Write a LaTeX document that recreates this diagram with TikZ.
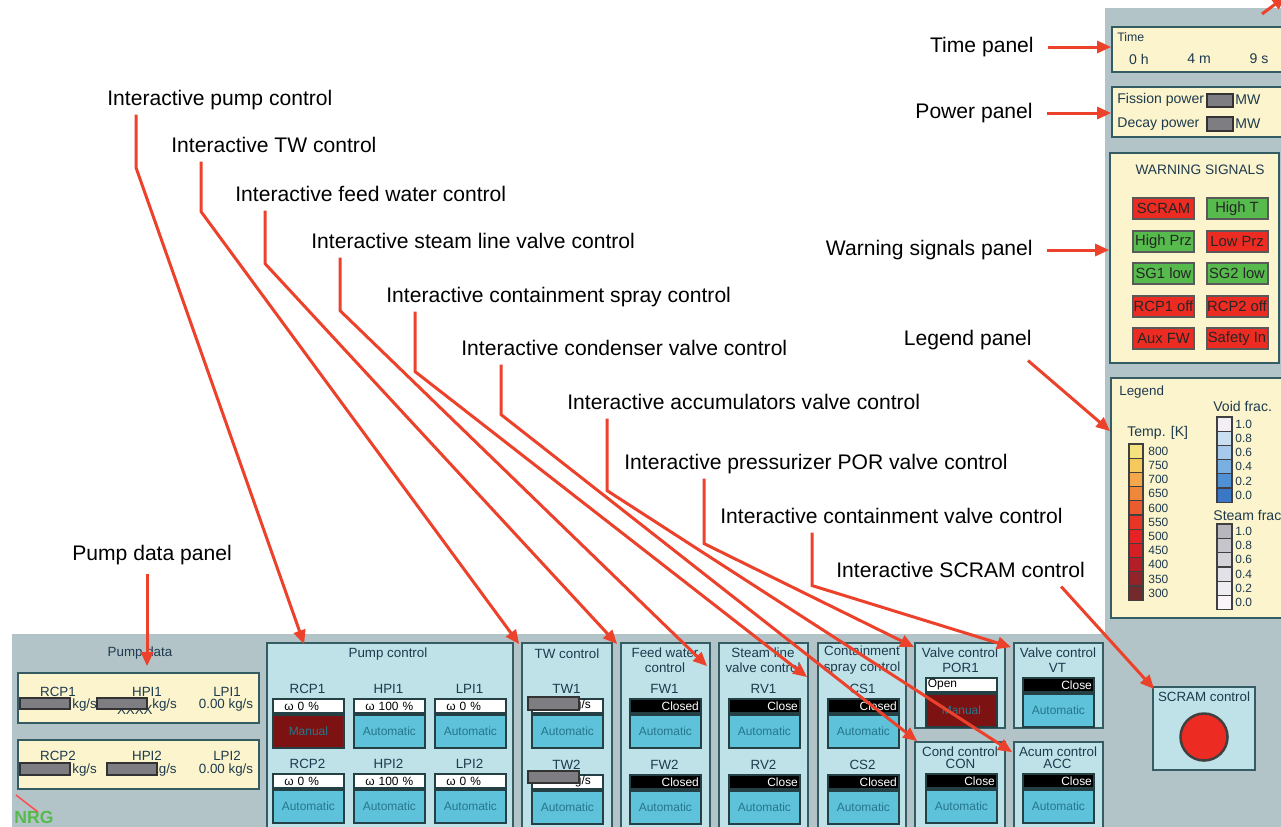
\documentclass[tikz,border=0pt]{standalone}
\usepackage{fontspec}
\setmainfont{Liberation Sans}
\usetikzlibrary{arrows.meta,positioning,calc,fit}

\definecolor{scrgrey}{RGB}{178,196,200}
\definecolor{pnlyellow}{RGB}{251,244,204}
\definecolor{pnlblue}{RGB}{190,226,232}
\definecolor{pnledge}{RGB}{52,92,98}
\definecolor{ctlcyan}{RGB}{94,194,218}
\definecolor{ctltext}{RGB}{38,118,140}
\definecolor{titletext}{RGB}{30,58,78}
\definecolor{mandark}{RGB}{124,18,18}
\definecolor{sigred}{RGB}{236,44,34}
\definecolor{siggreen}{RGB}{86,186,76}
\definecolor{callred}{RGB}{236,66,44}
\definecolor{maskgrey}{RGB}{126,126,130}
% legend scales
\definecolor{tk0}{HTML}{F5E27C}\definecolor{tk1}{HTML}{F6C95C}
\definecolor{tk2}{HTML}{F4A84A}\definecolor{tk3}{HTML}{EF873A}
\definecolor{tk4}{HTML}{EA5C2E}\definecolor{tk5}{HTML}{E83626}
\definecolor{tk6}{HTML}{E42424}\definecolor{tk7}{HTML}{D41F27}
\definecolor{tk8}{HTML}{B41F27}\definecolor{tk9}{HTML}{922429}
\definecolor{tk10}{HTML}{74292B}
\definecolor{vf0}{HTML}{F3EEF5}\definecolor{vf1}{HTML}{CADEF2}
\definecolor{vf2}{HTML}{A6C9EC}\definecolor{vf3}{HTML}{7AAFE1}
\definecolor{vf4}{HTML}{5090D4}\definecolor{vf5}{HTML}{3A78C6}
\definecolor{sf0}{HTML}{B6B6BC}\definecolor{sf1}{HTML}{C5C5CB}
\definecolor{sf2}{HTML}{D3D3D9}\definecolor{sf3}{HTML}{E1E1E7}
\definecolor{sf4}{HTML}{EDEDF2}\definecolor{sf5}{HTML}{F9F5F9}

\tikzset{
  callout/.style={font=\fontsize{12}{14}\selectfont, inner sep=0pt,
                  text height=9pt, text depth=2.6pt},
  flow/.style={draw=callred, line width=0.6mm,
               -{Triangle[length=2.8mm,width=2.4mm]}},
  pnl/.style={draw=pnledge, line width=0.35mm, inner sep=0pt},
  ypanel/.style={pnl, fill=pnlyellow},
  cpanel/.style={pnl, fill=pnlblue},
  ptitle/.style={font=\fontsize{7.6}{8.6}\selectfont, text=titletext,
                 inner sep=0pt, align=center},
  unitlbl/.style={ptitle},
  small/.style={font=\fontsize{7.6}{8.6}\selectfont, text=titletext, inner sep=0pt},
  legnum/.style={font=\fontsize{6.8}{7}\selectfont, text=titletext, inner sep=0pt, anchor=west},
  cell/.style={draw=black!75, line width=0.25mm},
  mask/.style={fill=maskgrey, draw=black!80, line width=0.3mm},
  ctltop/.style={anchor=north west, minimum height=2.8mm, text width=13.4mm,
                 inner xsep=0.4mm, inner ysep=0pt, draw=pnledge!70!black,
                 line width=0.35mm, font=\fontsize{6.8}{7}\selectfont},
  wtop/.style={ctltop, fill=white, align=left,
               execute at begin node={\hspace*{1.9mm}}},
  otop/.style={ctltop, fill=white, align=left},
  rtop/.style={ctltop, fill=white, align=right},
  btop/.style={ctltop, fill=black, text=white, align=right},
  ctlbody/.style={anchor=north west, minimum height=6.6mm, text width=13.4mm,
                  inner xsep=0.4mm, inner ysep=0pt, align=center,
                  draw=pnledge!70!black, line width=0.35mm,
                  font=\fontsize{6.8}{7}\selectfont, text=ctltext},
  autobody/.style={ctlbody, fill=ctlcyan},
  manbody/.style={ctlbody, fill=mandark},
  sigbtn/.style={draw=black!65, line width=0.4mm, minimum width=12.2mm,
                 minimum height=4.2mm, inner sep=0pt, text=black!85,
                 font=\fontsize{8.4}{9}\selectfont},
}

% one control unit: name, top-left corner, label, top style, top text, body style, body text
\newcommand{\ctlunit}[7]{%
  \node[unitlbl] (#1l) at ($(#2)+(35.5,-9)$) {#3};
  \node[#4] (#1t) at (#2) {#5};
  \node[#6] (#1b) at (#1t.south west) {#7};}

\begin{document}
\begin{tikzpicture}[x=0.2mm, y=-0.2mm]
  \clip (0,0) rectangle (1281,826);
  \fill[white] (0,0) rectangle (1281,826);
  % screen background
  \fill[scrgrey] (1105,8) rectangle (1290,830);
  \fill[scrgrey] (12,634) rectangle (1290,830);

  % right column panels
  \node[ypanel, fit={(1112,27) (1290,72)}] (timep) {};
  \node[small, anchor=west, font=\fontsize{7}{8}\selectfont] (timet) at (1117,37) {Time};
  \node[small, font=\fontsize{8}{9}\selectfont] (timeh) at (1139,59) {0 h};
  \node[small, font=\fontsize{8}{9}\selectfont] (timem) at (1199,59) {4 m};
  \node[small, font=\fontsize{8}{9}\selectfont] (times) at (1259,59) {9 s};

  \node[ypanel, fit={(1112,87) (1290,137)}] (powerp) {};
  \node[small, anchor=west, font=\fontsize{8}{9}\selectfont] (fisst) at (1117,100) {Fission power};
  \draw[mask] (1207,94) rectangle (1233,107);
  \node[small, anchor=west, font=\fontsize{8}{9}\selectfont] (fissu) at (1235,100) {MW};
  \node[small, anchor=west, font=\fontsize{8}{9}\selectfont] (dect) at (1117,124) {Decay power};
  \draw[mask] (1207,117) rectangle (1233,131);
  \node[small, anchor=west, font=\fontsize{8}{9}\selectfont] (decu) at (1235,124) {MW};

  \node[ypanel, fit={(1110,153) (1279,363)}] (warnp) {};
  \node[ptitle, font=\fontsize{7.8}{9}\selectfont] (warnt) at (1200,170) {WARNING SIGNALS};
  \foreach \nm/\txt/\col/\cx/\cy in {
      sScram/SCRAM/sigred/1163.5/208.5, sHighT/High T/siggreen/1237/208.5,
      sHighP/High Prz/siggreen/1163.5/241.5, sLowP/Low Prz/sigred/1237/241.5,
      sSGa/SG1 low/siggreen/1163.5/273.5, sSGb/SG2 low/siggreen/1237/273.5,
      sRCPa/RCP1 off/sigred/1163.5/306.5, sRCPb/RCP2 off/sigred/1237/306.5,
      sAux/Aux FW/sigred/1163.5/338.5, sSafe/Safety In/sigred/1237/338.5}
    \node[sigbtn, fill=\col] (\nm) at (\cx,\cy) {\txt};

  \node[ypanel, fit={(1111,378) (1290,618)}] (legendp) {};
  \node[small, anchor=west] (legt) at (1119,392) {Legend};
  \node[small, anchor=west, font=\fontsize{8}{9}\selectfont] (tempt) at (1127,433) {Temp. [K]};
  \node[small, anchor=west, font=\fontsize{8}{9}\selectfont] (voidt) at (1213,406) {Void frac.};
  \node[small, anchor=west, font=\fontsize{8}{9}\selectfont] (steamt) at (1213,515) {Steam frac};
  \foreach \v [count=\i from 0] in {800,750,...,300} {
    \draw[cell, fill=tk\i] (1129,{444+14.2*\i}) rectangle ++(14,14.2);
    \node[legnum] (tv\i) at (1148,{451.1+14.2*\i}) {\v};
  }
  \foreach \v [count=\i from 0] in {1.0,0.8,0.6,0.4,0.2,0.0} {
    \draw[cell, fill=vf\i] (1217,{417+14.2*\i}) rectangle ++(15,14.2);
    \node[legnum] (vv\i) at (1235,{424.1+14.2*\i}) {\v};
    \draw[cell, fill=sf\i] (1217,{524+14.3*\i}) rectangle ++(15,14.3);
    \node[legnum] (sv\i) at (1235,{531.2+14.3*\i}) {\v};
  }

  % pump data
  \node[ptitle] (pdt) at (140,653) {Pump data};
  \node[ypanel, fit={(18,673) (259,723)}] (pd1) {};
  \node[small] (pd1a) at (58,692) {RCP1};
  \node[small] (pd1b) at (147,692) {HPI1};
  \node[small] (pd1c) at (227,692) {LPI1};
  \node[small, anchor=west] (pd1av) at (72,705) {kg/s};
  \node[small, anchor=east] (pd1bx) at (153,710) {XXXX};
  \node[small, anchor=west] (pd1bv) at (152,705) {kg/s};
  \node[small] (pd1cv) at (226,705) {0.00 kg/s};
  \draw[mask] (20,698) rectangle (70,709);
  \draw[mask] (97,698) rectangle (147,709);
  \node[ypanel, fit={(18,740) (259,789)}] (pd2) {};
  \node[small] (pd2a) at (58,756) {RCP2};
  \node[small] (pd2b) at (147,756) {HPI2};
  \node[small] (pd2c) at (227,756) {LPI2};
  \node[small, anchor=west] (pd2av) at (72,770) {kg/s};
  \node[small, anchor=east] (pd2bv) at (177,770) {kg/s};
  \node[small] (pd2cv) at (226,770) {0.00 kg/s};
  \draw[mask] (20,763) rectangle (70,775);
  \draw[mask] (107,763) rectangle (157,775);
  \node[font=\fontsize{10}{10}\selectfont\bfseries, text=siggreen, inner sep=0pt]
    (nrg) at (34,817) {NRG};
  \draw[red!70, line width=0.3mm] (16,795) -- (38,812);

  % control panels
  \node[cpanel, fit={(267,643) (513,830)}] (pumpctl) {};
  \node[ptitle] (pumpt) at (388,654) {Pump control};
  \ctlunit{rcpa}{272,698}{RCP1}{wtop}{ω 0 \%}{manbody}{Manual}
  \ctlunit{hpia}{353,698}{HPI1}{wtop}{ω 100 \%}{autobody}{Automatic}
  \ctlunit{lpia}{434,698}{LPI1}{wtop}{ω 0 \%}{autobody}{Automatic}
  \ctlunit{rcpb}{272,773}{RCP2}{wtop}{ω 0 \%}{autobody}{Automatic}
  \ctlunit{hpib}{353,773}{HPI2}{wtop}{ω 100 \%}{autobody}{Automatic}
  \ctlunit{lpib}{434,773}{LPI2}{wtop}{ω 0 \%}{autobody}{Automatic}

  \node[cpanel, fit={(522,643) (612,830)}] (twctl) {};
  \node[ptitle] (twt) at (567,654) {TW control};
  \ctlunit{twa}{531,698}{TW1}{rtop}{kg/s\kern2mm}{autobody}{Automatic}
  \ctlunit{twb}{531,774}{TW2}{rtop}{kg/s\kern2mm}{autobody}{Automatic}
  \draw[mask] (528,697) rectangle (579,710);
  \draw[mask] (528,771) rectangle (579,783);

  \node[cpanel, fit={(621,643) (710,830)}] (fwctl) {};
  \node[ptitle] (fwt) at (665,660) {Feed water\\control};
  \ctlunit{fwa}{629,698}{FW1}{btop}{Closed}{autobody}{Automatic}
  \ctlunit{fwb}{629,774}{FW2}{btop}{Closed}{autobody}{Automatic}

  \node[cpanel, fit={(719,643) (808,830)}] (rvctl) {};
  \node[ptitle] (rvt) at (763,660) {Steam line\\valve control};
  \ctlunit{rva}{728,698}{RV1}{btop}{Close}{autobody}{Automatic}
  \ctlunit{rvb}{728,774}{RV2}{btop}{Close}{autobody}{Automatic}

  \node[cpanel, fit={(818,643) (906,830)}] (csctl) {};
  \node[ptitle] (cst) at (862,660) {Containment\\spray control};
  \ctlunit{csa}{827,698}{CS1}{btop}{Closed}{autobody}{Automatic}
  \ctlunit{csb}{827,774}{CS2}{btop}{Closed}{autobody}{Automatic}

  \node[cpanel, fit={(915,643) (1005,728)}] (porctl) {};
  \node[ptitle] (port) at (960,653) {Valve control};
  \ctlunit{por}{925,677}{POR1}{otop}{Open}{manbody}{Manual}

  \node[cpanel, fit={(1014,643) (1103,728)}] (vtctl) {};
  \node[ptitle] (vtt) at (1058,653) {Valve control};
  \ctlunit{vt}{1022,677}{VT}{btop}{Close}{autobody}{Automatic}

  \node[cpanel, fit={(915,742) (1005,830)}] (conctl) {};
  \node[ptitle] (cont) at (960,752) {Cond control};
  \ctlunit{con}{925,773}{CON}{btop}{Close}{autobody}{Automatic}

  \node[cpanel, fit={(1014,742) (1103,830)}] (accctl) {};
  \node[ptitle] (acct) at (1058,752) {Acum control};
  \ctlunit{acc}{1022,773}{ACC}{btop}{Close}{autobody}{Automatic}

  \node[cpanel, fit={(1153,687) (1255,770)}] (scramctl) {};
  \node[ptitle] (scramt) at (1204,697) {SCRAM control};
  \node[circle, fill=sigred, draw=black!75, line width=0.5mm, minimum size=9.4mm]
    (scrambtn) at (1204,737) {};

  % callouts
  \node[callout, anchor=west] (lPump) at (107,100) {Interactive pump control};
  \node[callout, anchor=west] (lTW) at (171,147) {Interactive TW control};
  \node[callout, anchor=west] (lFeed) at (235,196) {Interactive feed water control};
  \node[callout, anchor=west] (lSteam) at (311,243) {Interactive steam line valve control};
  \node[callout, anchor=west] (lSpray) at (386,297) {Interactive containment spray control};
  \node[callout, anchor=west] (lCond) at (461,350) {Interactive condenser valve control};
  \node[callout, anchor=west] (lAcum) at (567,404) {Interactive accumulators valve control};
  \node[callout, anchor=west] (lPOR) at (624,464) {Interactive pressurizer POR valve control};
  \node[callout, anchor=west] (lCont) at (720,518) {Interactive containment valve control};
  \node[callout, anchor=west] (lSCRAM) at (836,572) {Interactive SCRAM control};
  \node[callout, anchor=west] (lPdata) at (72,555) {Pump data panel};
  \node[callout, anchor=east] (lTime) at (1034,47) {Time panel};
  \node[callout, anchor=east] (lPower) at (1033,113) {Power panel};
  \node[callout, anchor=east] (lWarn) at (1033,250) {Warning signals panel};
  \node[callout, anchor=east] (lLegend) at (1032,340) {Legend panel};

  % arrows
  \draw[flow] ([xshift=5.8mm,yshift=-0.8mm]lPump.south west) -- ++(0,53)
    -- ($(pumpctl.north west)+(38,2)$);
  \draw[flow] ([xshift=6mm,yshift=-0.8mm]lTW.south west) -- ++(0,50)
    -- ($(twctl.north west)+(-2,2)$);
  \draw[flow] ([xshift=6mm,yshift=-0.8mm]lFeed.south west) -- ++(0,53)
    -- ($(fwctl.north west)+(-3,2)$);
  \draw[flow] ([xshift=5.8mm,yshift=-0.8mm]lSteam.south west) -- ++(0,53)
    -- ($(rvctl.north west)+(-11,24)$);
  \draw[flow] ([xshift=5.8mm,yshift=-0.8mm]lSpray.south west) -- ++(0,60)
    -- ($(csctl.north west)+(-10,35)$);
  \draw[flow] ([xshift=8mm,yshift=-0.8mm]lCond.south west) -- ++(0,50)
    -- ($(conctl.north west)+(3,0)$);
  \draw[flow] ([xshift=8mm,yshift=-0.8mm]lAcum.south west) -- ++(0,72)
    -- ($(accctl.north west)+(-1,11)$);
  \draw[flow] ([xshift=16mm,yshift=-0.8mm]lPOR.south west) -- ++(0,65)
    -- ($(porctl.north west)+(0,5)$);
  \draw[flow] ([xshift=18.4mm,yshift=-0.8mm]lCont.south west) -- ++(0,53)
    -- ($(vtctl.north west)+(-2,5)$);
  \draw[flow] ([xshift=-4.8mm,yshift=-0.8mm]lSCRAM.south east)
    -- ($(scramctl.north west)+(2,3)$);
  \draw[flow] ([xshift=-0.8mm,yshift=-2mm]lLegend.south east)
    -- ($(legendp.north west)+(0,54)$);
  \draw[flow] ([xshift=2.8mm]lTime.east) -- (lTime.east -| timep.west);
  \draw[flow] ([xshift=2.8mm]lPower.east) -- (lPower.east -| powerp.west);
  \draw[flow] ([xshift=2.8mm]lWarn.east) -- (lWarn.east -| warnp.west);
  \draw[flow] ([xshift=-1mm,yshift=-1.6mm]lPdata.south)
    -- ([xshift=-1mm,yshift=1.2mm]lPdata.south |- pd1.north);
  \coordinate (cutA) at (1262,14);
  \coordinate (cutB) at (1286,-4);
  \draw[flow] (cutA) -- (cutB);
\end{tikzpicture}
\end{document}
